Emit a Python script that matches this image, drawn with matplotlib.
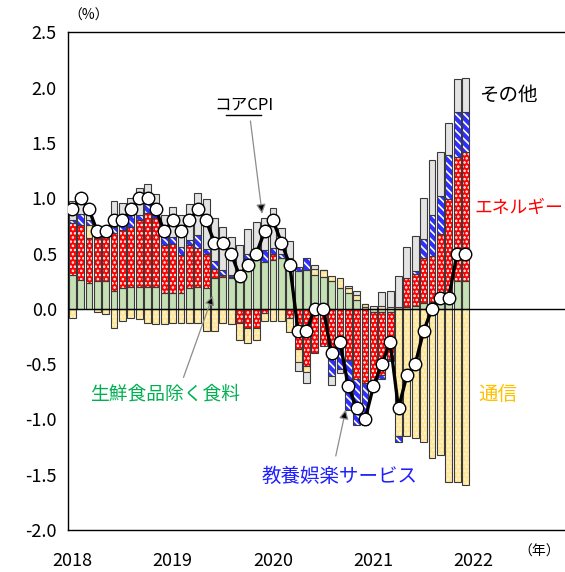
import numpy as np
import matplotlib
matplotlib.use("Agg")
import matplotlib.pyplot as plt

plt.rcParams["font.family"] = ["Noto Sans CJK JP", "DejaVu Sans"]

# 2018年1月〜2021年12月（前年比寄与度, %ポイント）
years = ["2018", "2019", "2020", "2021", "2022"]

food = [0.31, 0.26, 0.23, 0.25, 0.25, 0.16, 0.19, 0.20, 0.20, 0.20, 0.20, 0.14,
        0.14, 0.14, 0.19, 0.20, 0.19, 0.28, 0.29, 0.28, 0.25, 0.44, 0.46, 0.42,
        0.44, 0.46, 0.44, 0.34, 0.35, 0.31, 0.29, 0.25, 0.19, 0.14, 0.08, 0.02,
        -0.03, -0.03, -0.03, 0.02, 0.02, 0.03, 0.05, 0.06, 0.08, 0.14, 0.25, 0.25]
energy = [0.47, 0.50, 0.41, 0.39, 0.40, 0.53, 0.52, 0.54, 0.60, 0.665, 0.62, 0.44,
          0.45, 0.35, 0.39, 0.35, 0.31, 0.08, 0.02, 0.01, -0.13, -0.17, -0.17, -0.04,
          0.06, 0.00, -0.08, -0.36, -0.52, -0.40, -0.34, -0.37, -0.28, -0.46, -0.63, -0.67,
          -0.62, -0.57, -0.42, 0.00, 0.26, 0.29, 0.41, 0.42, 0.60, 0.85, 1.12, 1.17]
telecom = [-0.08, 0.00, 0.12, -0.03, -0.05, -0.17, -0.11, -0.08, -0.09, -0.13, -0.14, -0.14,
           -0.13, -0.13, -0.13, -0.13, -0.20, -0.20, -0.13, -0.14, -0.15, -0.14, -0.11, -0.07,
           -0.11, -0.11, -0.13, -0.12, -0.05, 0.05, 0.06, 0.05, 0.09, 0.05, 0.05, 0.02,
           -0.02, 0.03, 0.02, -1.15, -1.15, -1.17, -1.20, -1.35, -1.32, -1.57, -1.57, -1.59]
leisure = [0.02, 0.10, 0.04, 0.03, 0.02, 0.05, 0.05, 0.11, 0.05, 0.085, 0.03, 0.07,
           0.06, 0.07, 0.04, 0.12, 0.04, 0.07, 0.04, 0.02, 0.02, 0.06, 0.06, 0.11,
           0.05, 0.04, 0.02, 0.04, 0.11, 0.00, 0.00, -0.24, -0.26, -0.45, -0.42, -0.38,
           -0.06, -0.03, -0.02, -0.05, 0.00, 0.02, 0.17, 0.37, 0.34, 0.40, 0.41, 0.36]
other = [0.18, 0.12, 0.08, 0.05, 0.06, 0.24, 0.20, 0.15, 0.24, 0.18, 0.19, 0.20,
         0.27, 0.29, 0.33, 0.38, 0.45, 0.39, 0.39, 0.34, 0.31, 0.22, 0.27, 0.29,
         0.36, 0.23, 0.15, -0.08, -0.10, 0.04, 0.00, -0.08, -0.04, 0.02, 0.03, 0.00,
         0.03, 0.12, 0.14, 0.28, 0.28, 0.32, 0.37, 0.50, 0.40, 0.29, 0.30, 0.31]
core = [0.9, 1.0, 0.9, 0.7, 0.7, 0.8, 0.8, 0.9, 1.0, 1.0, 0.9, 0.7,
        0.8, 0.7, 0.8, 0.9, 0.8, 0.6, 0.6, 0.5, 0.3, 0.4, 0.5, 0.7,
        0.8, 0.6, 0.4, -0.2, -0.2, 0.0, 0.0, -0.4, -0.3, -0.7, -0.9, -1.0,
        -0.7, -0.5, -0.3, -0.9, -0.6, -0.5, -0.2, 0.0, 0.1, 0.1, 0.5, 0.5]

# 積み上げ順（下から）：食料, エネルギー, 通信, 教養娯楽, その他
series = [
    (food, "#c5e0b4", None, None),
    (energy, "#ff0000", "....", "white"),
    (telecom, "#ffe699", "....", "#fff6d5"),
    (leisure, "#2f2fff", "\\\\\\\\", "white"),
    (other, "#e3e3e3", None, None),
]

x = np.arange(len(core))
W = 0.82
EDGE = "#3a3a3a"

fig = plt.figure(figsize=(5.65, 5.72), dpi=100)
ax = fig.add_axes([0.1204, 0.0734, 0.8796, 0.8698])

pos = np.zeros(len(x))
neg = np.zeros(len(x))
plt.rcParams["hatch.linewidth"] = 1.2
for vals, fc, hatch, hc in series:
    v = np.array(vals)
    bottom = np.where(v >= 0, pos, neg)
    if hatch:
        ax.bar(x, v, W, bottom=bottom, color=fc, hatch=hatch, edgecolor=hc,
               linewidth=0, zorder=2)
        ax.bar(x, v, W, bottom=bottom, fill=False, edgecolor=EDGE,
               linewidth=0.8, zorder=3)
    else:
        ax.bar(x, v, W, bottom=bottom, color=fc, edgecolor=EDGE,
               linewidth=0.8, zorder=3)
    pos = np.where(v >= 0, pos + v, pos)
    neg = np.where(v < 0, neg + v, neg)

ax.axhline(0, color="black", lw=1.0, zorder=4)
ax.plot(x, core, color="black", lw=2.4, marker="o", ms=9,
        mfc="white", mec="black", mew=1.0, zorder=6)

ax.set_xlim(-0.5, 58.9)
ax.set_ylim(-2.0, 2.5)
ax.set_yticks(np.arange(-2.0, 2.51, 0.5))
ax.set_yticklabels([f"{t:.1f}" for t in np.arange(-2.0, 2.51, 0.5)])
ax.set_xticks([0, 12, 24, 36, 48])
ax.set_xticklabels(years)
ax.tick_params(length=0, labelsize=13, pad=8)
ax.tick_params(axis="x", pad=16)
for s in ("top", "left", "bottom"):
    ax.spines[s].set_color("black")
    ax.spines[s].set_linewidth(1.0)
ax.spines["right"].set_visible(False)

fig.text(0.156, 0.972, "（%）", fontsize=10, ha="center", va="center")
fig.text(0.955, 0.035, "（年）", fontsize=10, ha="center", va="center")

ax.text(48.6, 1.93, "その他", fontsize=14, color="black", va="center")
ax.text(48.1, 0.91, "エネルギー", fontsize=12.8, color="#ff0000", va="center")
ax.text(48.6, -0.77, "通信", fontsize=14, color="#ffc000", va="center")
ax.text(11.1, -0.77, "生鮮食品除く食料", fontsize=13.5, color="#00b050",
        ha="center", va="center")
ax.text(32.0, -1.52, "教養娯楽サービス", fontsize=14, color="#1f1fff",
        ha="center", va="center")
ax.text(20.5, 1.84, "コアCPI", fontsize=12, color="black", ha="center",
        va="center")
ax.plot([18.4, 22.6], [1.75, 1.75], color="black", lw=1.0, zorder=7)

arrow = dict(arrowstyle="-|>", ec="#8c8c8c", fc="black", lw=0.9,
             mutation_scale=14, shrinkA=0, shrinkB=0)
ax.annotate("", xy=(16.8, 0.12), xytext=(13.3, -0.62), arrowprops=arrow, zorder=7)
ax.annotate("", xy=(22.7, 0.86), xytext=(21.3, 1.70), arrowprops=arrow, zorder=7)
ax.annotate("", xy=(32.7, -0.91), xytext=(31.5, -1.33), arrowprops=arrow, zorder=7)

fig.savefig("out.png", dpi=100)
